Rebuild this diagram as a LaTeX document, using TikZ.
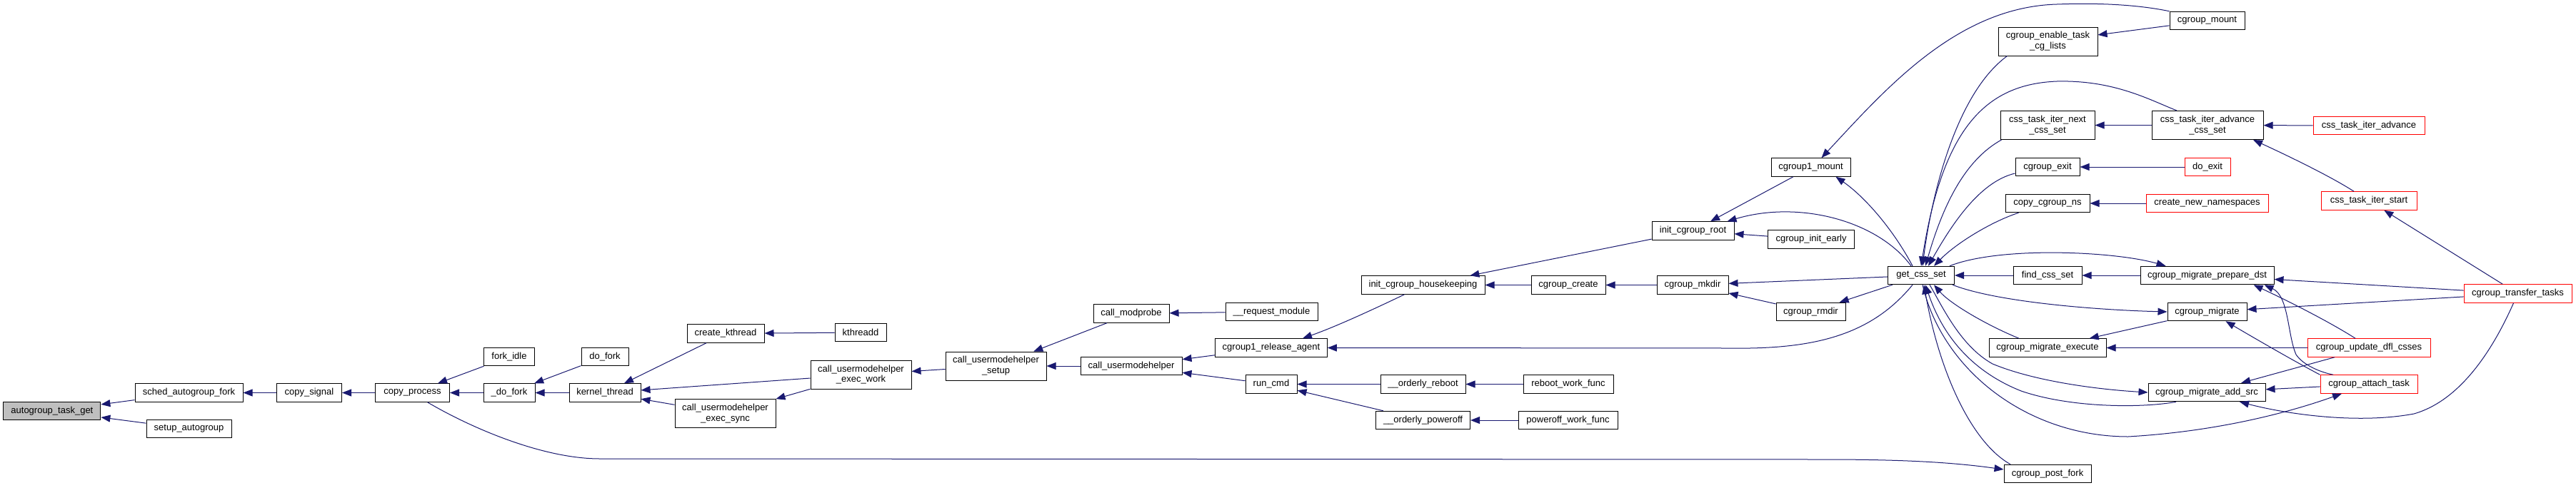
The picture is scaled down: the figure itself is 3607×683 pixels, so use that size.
\documentclass[tikz,border=0pt]{standalone}
\usepackage{fontspec}
\setmainfont{Liberation Sans}
\usetikzlibrary{arrows.meta}
\definecolor{edgecol}{HTML}{191970}
\definecolor{grayfill}{HTML}{BFBFBF}
\newcommand\nodefont{\fontsize{13}{14.8}\selectfont}
\tikzset{
  box/.style={draw=black, fill=white, line width=1pt, inner sep=0pt, minimum height=25.5pt, font=\nodefont, align=center},
  redbox/.style={box, draw=red},
  twol/.style={minimum height=40pt},
  e/.style={draw=edgecol, line width=1pt, {Triangle[length=13pt,width=10pt]}-}
}
\begin{document}
\begin{tikzpicture}[x=1pt,y=-1pt]
\useasboundingbox[fill=white] (0,0) rectangle (3607,683);
% nodes
\node[box, fill=grayfill, minimum width=136pt] (atg) at (72.9,576) {autogroup\_task\_get};
\node[box, minimum width=151pt] (saf) at (264.5,550.5) {sched\_autogroup\_fork};
\node[box, minimum width=119pt] (sag) at (264.5,601) {setup\_autogroup};
\node[box, minimum width=91pt] (cs) at (433,550.5) {copy\_signal};
\node[box, minimum width=104pt] (cp) at (577.5,550.5) {copy\_process};
\node[box, minimum width=71pt] (fi) at (713,500) {fork\_idle};
\node[box, minimum width=72pt] (dfk) at (713,550.5) {\_do\_fork};
\node[box, minimum width=66pt] (df) at (847,500) {do\_fork};
\node[box, minimum width=100pt] (kt) at (847,550.5) {kernel\_thread};
\node[box, minimum width=108pt] (ck) at (1016,467.5) {create\_kthread};
\node[box, minimum width=72pt] (kd) at (1205,466) {kthreadd};
\node[box, twol, minimum width=141pt] (uew) at (1205.5,525) {call\_usermodehelper\\\_exec\_work};
\node[box, twol, minimum width=141pt] (ues) at (1015.5,579.5) {call\_usermodehelper\\\_exec\_sync};
\node[box, twol, minimum width=141pt] (ust) at (1394.5,513) {call\_usermodehelper\\\_setup};
\node[box, minimum width=106pt] (cmp) at (1584,439.5) {call\_modprobe};
\node[box, minimum width=129pt] (rqm) at (1780.5,437) {\_\_request\_module};
\node[box, minimum width=142pt] (cuh) at (1584,513) {call\_usermodehelper};
\node[box, minimum width=156.5pt] (cra) at (1780,487.5) {cgroup1\_release\_agent};
\node[box, minimum width=72pt] (rc) at (1780,538.5) {run\_cmd};
\node[box, minimum width=173pt] (ich) at (1992.5,399.5) {init\_cgroup\_housekeeping};
\node[box, minimum width=104pt] (ccr) at (2196,399.5) {cgroup\_create};
\node[box, minimum width=100pt] (cmk) at (2370,399.5) {cgroup\_mkdir};
\node[box, minimum width=115pt] (icr) at (2370.5,323.5) {init\_cgroup\_root};
\node[box, minimum width=119pt] (ore) at (1992.5,538.5) {\_\_orderly\_reboot};
\node[box, minimum width=126pt] (rwf) at (2196,538.5) {reboot\_work\_func};
\node[box, minimum width=132pt] (opo) at (1992.5,589) {\_\_orderly\_poweroff};
\node[box, minimum width=139pt] (pwf) at (2195.5,589) {poweroff\_work\_func};
\node[box, minimum width=111pt] (c1m) at (2535.5,234.5) {cgroup1\_mount};
\node[box, minimum width=120.5pt] (cie) at (2536,335.5) {cgroup\_init\_early};
\node[box, minimum width=97pt] (crm) at (2535.5,437) {cgroup\_rmdir};
\node[box, minimum width=93pt] (gcs) at (2690,386) {get\_css\_set};
\node[box, twol, minimum width=139pt] (cet) at (2867.5,58) {cgroup\_enable\_task\\\_cg\_lists};
\node[box, twol, minimum width=132pt] (cnx) at (2867,175.5) {css\_task\_iter\_next\\\_css\_set};
\node[box, minimum width=90pt] (cex) at (2867,234) {cgroup\_exit};
\node[box, minimum width=118pt] (ccn) at (2867,285) {copy\_cgroup\_ns};
\node[box, minimum width=96pt] (fcs) at (2867,386) {find\_css\_set};
\node[box, minimum width=164pt] (cme) at (2867,487.5) {cgroup\_migrate\_execute};
\node[box, minimum width=122pt] (cpf) at (2867,664) {cgroup\_post\_fork};
\node[box, minimum width=105pt] (cmt) at (3090.5,29) {cgroup\_mount};
\node[box, twol, minimum width=156pt] (cad) at (3091,175.5) {css\_task\_iter\_advance\\\_css\_set};
\node[redbox, minimum width=64pt] (dex) at (3091,234) {do\_exit};
\node[redbox, minimum width=171pt] (cnn) at (3090.5,285) {create\_new\_namespaces};
\node[box, minimum width=187pt] (cpd) at (3090.5,386) {cgroup\_migrate\_prepare\_dst};
\node[box, minimum width=111pt] (cmg) at (3090.5,437) {cgroup\_migrate};
\node[box, minimum width=164pt] (cas) at (3090,550) {cgroup\_migrate\_add\_src};
\node[redbox, minimum width=156pt] (cia) at (3317,176) {css\_task\_iter\_advance};
\node[redbox, minimum width=134pt] (cis) at (3317,281.5) {css\_task\_iter\_start};
\node[redbox, minimum width=151pt] (ctt) at (3525.5,411.5) {cgroup\_transfer\_tasks};
\node[redbox, minimum width=172pt] (cud) at (3317,487.5) {cgroup\_update\_dfl\_csses};
\node[redbox, minimum width=136pt] (cat) at (3317,538.5) {cgroup\_attach\_task};
% straight edges
\draw[e] (atg) -- (saf);
\draw[e] (atg) -- (sag);
\draw[e] (saf) -- (cs);
\draw[e] (cs) -- (cp);
\draw[e] (cp) -- (fi);
\draw[e] (cp) -- (dfk);
\draw[e] (dfk) -- (df);
\draw[e] (dfk) -- (kt);
\draw[e] (kt) -- (ck);
\draw[e] (kt) -- (uew);
\draw[e] (kt) -- (ues);
\draw[e] (ck) -- (kd);
\draw[e] (ues) -- (uew);
\draw[e] (uew) -- (ust);
\draw[e] (ust) -- (cmp);
\draw[e] (ust) -- (cuh);
\draw[e] (cmp) -- (rqm);
\draw[e] (cuh) -- (cra);
\draw[e] (cuh) -- (rc);
\draw[e] (rc) -- (ore);
\draw[e] (rc) -- (opo);
\draw[e] (ore) -- (rwf);
\draw[e] (opo) -- (pwf);
\draw[e] (ich) -- (icr);
\draw[e] (ich) -- (ccr);
\draw[e] (ccr) -- (cmk);
\draw[e] (icr) -- (c1m);
\draw[e] (icr) -- (cie);
\draw[e] (cmk) -- (gcs);
\draw[e] (cmk) -- (crm);
\draw[e] (crm) -- (gcs);
\draw[e] (cet) -- (cmt);
\draw[e] (cnx) -- (cad);
\draw[e] (cad) -- (cia);
\draw[e] (cis) -- (ctt);
\draw[e] (cex) -- (dex);
\draw[e] (ccn) -- (cnn);
\draw[e] (gcs) -- (fcs);
\draw[e] (fcs) -- (cpd);
\draw[e] (cme) -- (cmg);
\draw[e] (cme) -- (cud);
\draw[e] (cpd) -- (ctt);
\draw[e] (cmg) -- (ctt);
\draw[e] (cas) -- (cud);
\draw[e] (cas) -- (cat);
% curved edges
\draw[e] ([yshift=6pt]cpf.west) .. controls (2720,646) and (2640,644) .. (2550,644) -- (840,643) .. controls (760,643) and (660,600) .. ([xshift=21pt]cp.south);
\draw[e] ([xshift=15pt]c1m.north) .. controls (2640,125) and (2740,10) .. (2880,6) .. controls (2960,3) and (3010,10) .. (cmt.north west);
\draw[e] ([xshift=2pt]gcs.north) .. controls (2705,270) and (2740,130) .. ([xshift=13pt]cet.south west);
\draw[e] (gcs.north) .. controls (2720,180) and (2780,118) .. (2880,114) .. controls (2960,112) and (3010,140) .. ([xshift=-43pt]cad.north);
\draw[e] ([xshift=6pt]gcs.north) .. controls (2720,290) and (2750,225) .. ([xshift=2pt]cnx.south west);
\draw[e] ([xshift=10pt]gcs.north) .. controls (2730,320) and (2770,255) .. ([yshift=-9pt]cex.west);
\draw[e] ([xshift=18pt]gcs.north) .. controls (2740,340) and (2790,310) .. ([xshift=19pt]ccn.south west);
\draw[e] ([xshift=35pt]c1m.south) .. controls (2610,275) and (2650,320) .. ([xshift=-12pt]gcs.north);
\draw[e] ([xshift=-10pt]icr.north east) .. controls (2520,280) and (2630,310) .. ([xshift=-14pt]gcs.north);
\draw[e] (cra.east) -- (2420,488) .. controls (2540,490) and (2620,470) .. ([xshift=-12pt]gcs.south);
\draw[e] ([xshift=44pt]cra.north) .. controls (1870,458) and (1920,435) .. ([xshift=-26pt]ich.south);
\draw[e] ([xshift=64pt]cad.south) .. controls (3190,212) and (3260,245) .. ([xshift=-21pt]cis.north);
\draw[e] ([xshift=-58pt]cpd.north) .. controls (2960,352) and (2800,345) .. ([xshift=40pt]gcs.north);
\draw[e] (cmg.west) .. controls (2950,435) and (2800,425) .. ([xshift=44pt]gcs.south);
\draw[e] ([xshift=18pt]gcs.south) .. controls (2730,425) and (2780,455) .. ([xshift=-40pt]cme.north);
\draw[e] (cas.west) .. controls (2940,546) and (2850,535) .. (2790,510) .. controls (2745,485) and (2720,430) .. ([xshift=12pt]gcs.south);
\draw[e] ([xshift=6pt]gcs.south) .. controls (2720,470) and (2760,520) .. (2830,548) .. controls (2900,572) and (3000,572) .. ([xshift=-43pt]cas.south);
\draw[e] ([xshift=-38pt]cat.south) .. controls (3200,580) and (3100,605) .. (2980,612) .. controls (2840,612) and (2720,520) .. ([xshift=2pt]gcs.south);
\draw[e] ([xshift=4pt]gcs.south) .. controls (2715,520) and (2760,620) .. ([xshift=-52pt]cpf.north);
\draw[e] ([xshift=46pt]cas.south) .. controls (3200,580) and (3300,595) .. (3380,580) .. controls (3450,560) and (3495,480) .. ([xshift=-6pt]ctt.south);
\draw[e] ([xshift=65pt]cpd.south) .. controls (3200,420) and (3260,450) .. ([xshift=-19pt]cud.north);
\draw[e] ([xshift=80pt]cpd.south) .. controls (3205,415) and (3203,470) .. (3215,497) .. controls (3225,512) and (3250,522) .. ([xshift=-50pt]cat.north);
\draw[e] ([xshift=26pt]cmg.south) .. controls (3150,470) and (3210,505) .. (cat.north west);
\end{tikzpicture}
\end{document}
